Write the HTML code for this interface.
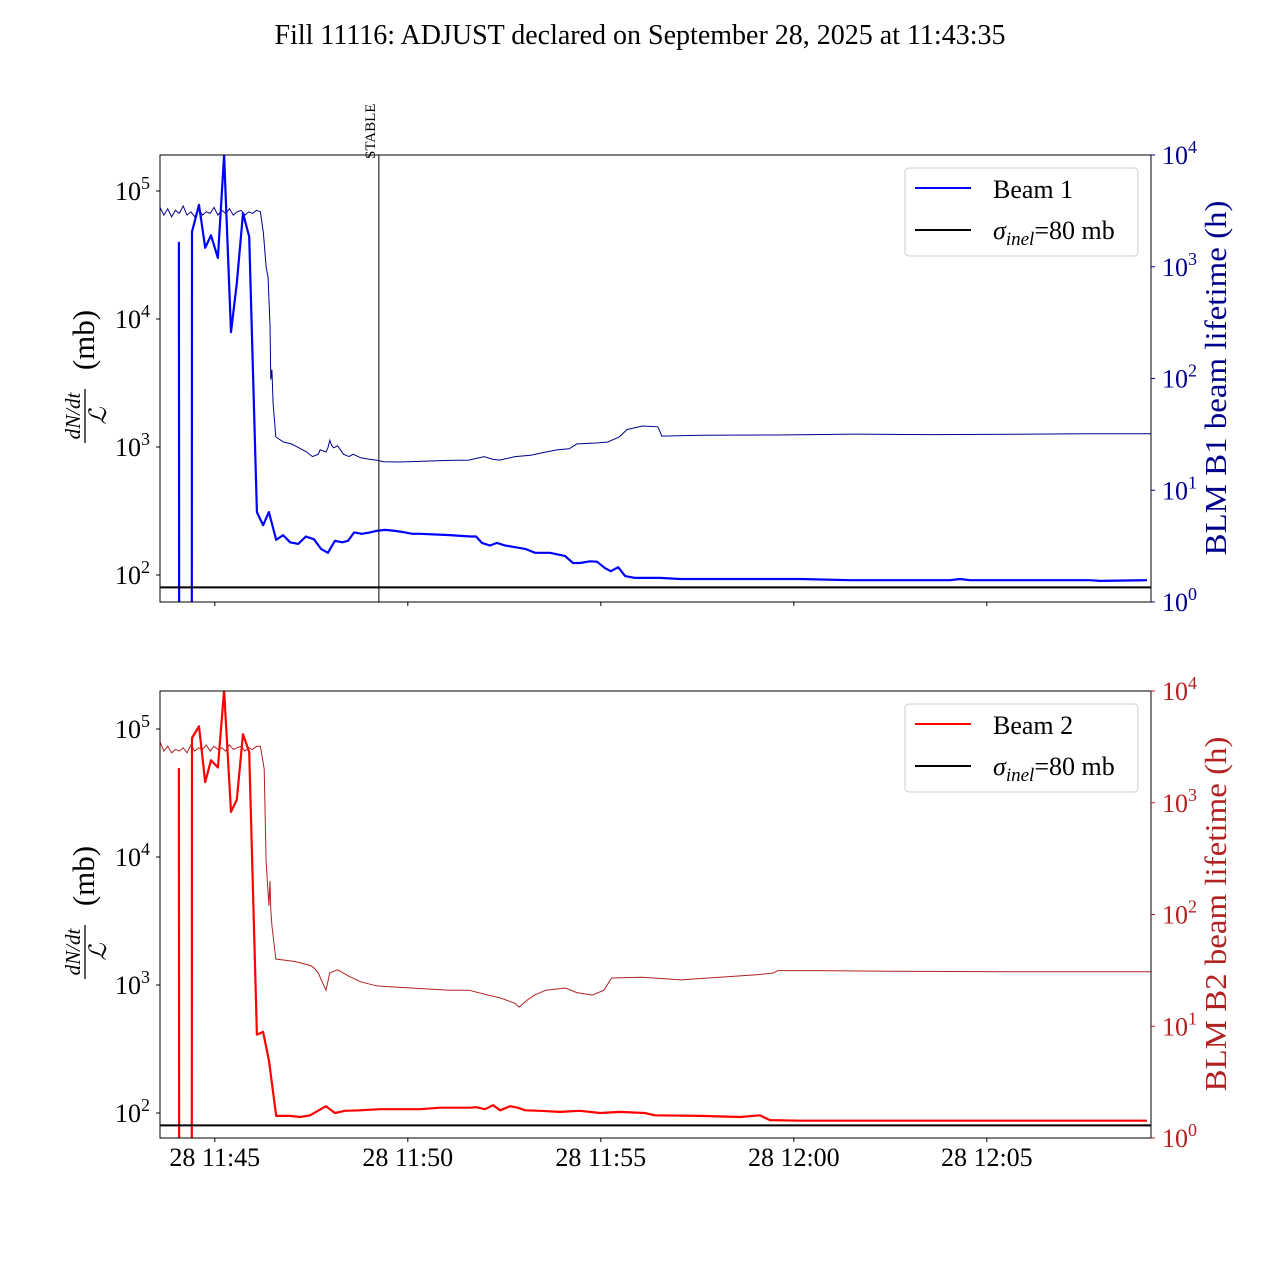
<!DOCTYPE html>
<html><head><meta charset="utf-8"><style>
html,body{margin:0;padding:0;background:#fff;width:1280px;height:1280px;overflow:hidden;}
svg{display:block;font-family:"Liberation Serif","DejaVu Serif",serif;}
</style></head><body>
<svg id="chart" width="1280" height="1280" viewBox="0 0 1280 1280" xmlns="http://www.w3.org/2000/svg">
<rect width="1280" height="1280" fill="#fff"/>
<text x="640" y="44" font-size="28" text-anchor="middle" textLength="731" lengthAdjust="spacingAndGlyphs">Fill 11116: ADJUST declared on September 28, 2025 at 11:43:35</text>
</svg>
<script>
// time in minutes after 11:43:35
const xTickLabels = ["28 11:45","28 11:50","28 11:55","28 12:00","28 12:05"];
const xTickTimes = [1.42, 6.42, 11.42, 16.42, 21.42];
const leftTicks = [2,3,4,5];
const rightTicks = [0,1,2,3,4];
const sigmaInel = 80;
const stableTime = 5.67;

const b1Time = [0.49,0.50,0.82,0.83,1.01,1.17,1.32,1.50,1.66,1.84,1.99,2.15,2.31,2.51,2.67,2.82,3.01,3.19,3.37,3.58,3.78,3.99,4.17,4.35,4.53,4.72,4.87,5.03,5.23,5.44,5.60,5.83,6.09,6.35,6.53,6.74,7.51,8.03,8.19,8.34,8.55,8.73,8.94,9.20,9.46,9.72,9.84,10.10,10.49,10.70,10.88,11.14,11.32,11.53,11.68,11.87,12.05,12.31,12.95,13.47,16.58,17.88,20.47,20.73,20.98,24.09,24.35,25.57];
const b1Loss = [40000,1,1,48000,78000,36000,45000,30000,190000,7900,19000,67000,44000,310,245,310,188,205,180,175,200,190,160,149,185,180,185,215,210,215,221,225,221,215,210,210,205,200,200,178,170,178,170,165,160,149,149,149,141,124,124,128,127,113,107,115,98,95,95,93,93,91,91,93,91,91,90,91];

const b1LifeTime = [0,0.1,0.2,0.3,0.4,0.5,0.6,0.7,0.8,0.9,1.0,1.1,1.2,1.3,1.4,1.5,1.6,1.7,1.8,1.9,2.0,2.1,2.2,2.3,2.4,2.5,2.6,2.68,2.75,2.8,2.85,2.87,2.9,2.93,3.0,3.2,3.4,3.6,3.8,3.95,4.1,4.15,4.3,4.35,4.4,4.45,4.5,4.6,4.75,4.9,5.0,5.2,5.4,5.6,5.8,6.2,6.8,7.5,8.0,8.4,8.6,8.8,9.2,9.6,10.0,10.3,10.6,10.8,11.3,11.6,11.9,12.1,12.5,12.9,13.0,14,16,18,20,22,24,25.7];
const b1Life = [3400,2900,3300,2800,3200,3000,3500,2900,3100,2800,3300,2900,3100,3000,3400,2900,3200,3000,3300,2900,3100,3200,2900,3100,3000,3200,3100,2000,1000,800,300,98,120,60,30,27,26,24,22,20,21,23,22,24,28,25,24,25,21,20,21,19.5,19,18.6,18.0,17.9,18.2,18.5,18.6,20,19,18.6,20,20.6,22,23,23.5,26,26.5,27,30,35,37.6,37,30.5,31,31.2,31.8,31.5,31.7,32,32];

const b2Time = [0.49,0.50,0.82,0.83,1.01,1.17,1.32,1.50,1.66,1.84,1.99,2.15,2.31,2.51,2.67,2.82,3.01,3.37,3.63,3.89,4.09,4.30,4.53,4.79,5.18,5.70,6.74,7.25,8.03,8.19,8.42,8.63,8.81,9.07,9.27,9.46,9.84,10.36,10.88,11.40,11.92,12.56,12.82,13.99,15.03,15.54,15.80,16.58,25.57];
const b2Loss = [49500,1,1,85000,105000,38500,57000,50000,200000,22500,28000,91000,66000,410,430,258,95,95,93,96,104,113,100,104,105,107,107,110,110,111,107,115,105,113,110,105,104,102,104,100,102,100,96,95,93,96,88,87,87];

const b2LifeTime = [0,0.1,0.2,0.3,0.4,0.5,0.6,0.7,0.8,0.9,1.0,1.1,1.2,1.3,1.4,1.5,1.6,1.7,1.8,1.9,2.0,2.1,2.2,2.3,2.4,2.5,2.6,2.7,2.75,2.82,2.85,2.87,2.9,3.0,3.5,3.9,4.0,4.1,4.2,4.3,4.4,4.6,4.9,5.2,5.6,6.0,6.5,7.0,7.5,8.0,8.5,8.8,9.0,9.2,9.3,9.5,9.7,10.0,10.5,10.8,11.2,11.5,11.7,12.5,13.5,14.5,15.5,15.9,16.0,17,19,22,25.7];
const b2Life = [3500,2900,3200,2800,3000,2900,3100,2800,3300,2900,3100,3000,3300,2900,3200,3000,3100,2900,3300,3000,3100,3200,2900,3100,3000,3200,3200,2000,300,120,200,110,80,40,38,35,33,30,25,21,30,32,28,25,23,22.5,22,21.5,21,21,19,18,17,16,14.8,17,19,21,22,20,19,21,27,27.5,26,27.5,29,30,31.5,31.5,31,30.8,30.8];

const NS="http://www.w3.org/2000/svg";
const svg=document.getElementById('chart');
function el(tag,attrs,parent){const e=document.createElementNS(NS,tag);for(const k in attrs)e.setAttribute(k,attrs[k]);(parent||svg).appendChild(e);return e;}

const X0=160,X1=1151,PXMIN=38.6;
function xs(t){return X0+t*PXMIN;}

function drawPanel(p){
  const top=p.top,bot=p.top+447;
  const yl=v=>p.l5-(Math.log10(v)-5)*128;
  const yr=v=>bot-Math.log10(v)*111.75;
  const g=el('g',{});
  
  
  const clipId='clip'+p.top;
  const cp=el('clipPath',{id:clipId},g);
  el('rect',{x:X0,y:top,width:X1-X0,height:447},cp);
  let d='';p.lifeT.forEach((t,i)=>{d+=(i?'L':'M')+xs(t).toFixed(1)+','+yr(p.life[i]).toFixed(1);});
  const lf=el('path',{d:d,fill:'none',stroke:p.lifeColor,'stroke-width':1,'clip-path':'url(#'+clipId+')'},g);
  
  
  d='';p.lossT.forEach((t,i)=>{d+=(i?'L':'M')+xs(t).toFixed(1)+','+yl(p.loss[i]).toFixed(1);});
  const ls=el('path',{d:d,fill:'none',stroke:p.color,'stroke-width':2.2,'stroke-linejoin':'round','clip-path':'url(#'+clipId+')'},g);
  
  
  const sl=el('line',{x1:X0,x2:X1,y1:yl(sigmaInel),y2:yl(sigmaInel),stroke:'#000','stroke-width':2},g);
  
  
  const fr=el('rect',{x:X0,y:top,width:X1-X0,height:447,fill:'none',stroke:'#000','stroke-width':1},g);
  
  
  leftTicks.forEach(e=>{
    const y=yl(Math.pow(10,e));
    el('line',{x1:X0-4,x2:X0,y1:y,y2:y,stroke:'#000'},g);
    const t=el('text',{x:150,y:y+9,'font-size':26,'text-anchor':'end'},g);
    
    
    t.innerHTML='10<tspan dy="-11" font-size="18">'+e+'</tspan>';
  });
  rightTicks.forEach(e=>{
    const y=yr(Math.pow(10,e));
    el('line',{x1:X1,x2:X1+4,y1:y,y2:y,stroke:p.lifeColor},g);
    const t=el('text',{x:1162,y:y+9,'font-size':26,fill:p.lifeColor},g);
    
    
    t.innerHTML='10<tspan dy="-11" font-size="18">'+e+'</tspan>';
  });
  xTickTimes.forEach((tt,i)=>{
    const x=xs(tt);
    el('line',{x1:x,x2:x,y1:bot,y2:bot+4,stroke:'#000'},g);
    if(p.xlabels){
      const t=el('text',{x:x,y:bot+28,'font-size':26,'text-anchor':'middle'},g);
      
      
      t.textContent=xTickLabels[i];
    }
  });
  const lg=el('g',{transform:'translate(84,'+(top+223)+') rotate(-90)'},g);
  
  
  el('text',{x:-38,y:-4,'font-size':21,'font-style':'italic','text-anchor':'middle'},lg).textContent='dN/dt';
  el('line',{x1:-65,x2:-11,y1:1,y2:1,stroke:'#000','stroke-width':1.3},lg);
  el('text',{x:-38,y:22,'font-size':24,'font-style':'italic','text-anchor':'middle'},lg).textContent='ℒ';
  el('text',{x:38,y:10,'font-size':31,'text-anchor':'middle'},lg).textContent='(mb)';
  const rt=el('text',{transform:'translate(1226,'+(top+223)+') rotate(-90)','font-size':31,'text-anchor':'middle',fill:p.lifeColor,textLength:355,lengthAdjust:'spacingAndGlyphs'},g);
  
  
  rt.textContent=p.rightLabel;
  const lgd=el('g',{},g);
  
  
  el('rect',{x:905,y:top+13,width:233,height:88,rx:4,fill:'#fff',stroke:'#ccc'},lgd);
  el('line',{x1:915,x2:971,y1:top+33,y2:top+33,stroke:p.color,'stroke-width':2},lgd);
  el('text',{x:993,y:top+43,'font-size':26},lgd).textContent=p.beamLabel;
  el('line',{x1:915,x2:971,y1:top+75,y2:top+75,stroke:'#000','stroke-width':2},lgd);
  const st=el('text',{x:993,y:top+84,'font-size':26},lgd);
  st.innerHTML='<tspan font-style="italic">σ</tspan><tspan font-style="italic" font-size="19" dy="6">inel</tspan><tspan dy="-6">=80 mb</tspan>';
  return {yl,yr,top,bot};
}

drawPanel({top:155,l5:191,name:'beam1-panel',color:'#0000ff',lifeColor:'#00008b',lossT:b1Time,loss:b1Loss,lifeT:b1LifeTime,life:b1Life,lossName:'beam1-loss-line',lifeName:'beam1-lifetime-line',rightLabel:'BLM B1 beam lifetime (h)',beamLabel:'Beam 1',xlabels:false});
drawPanel({top:691,l5:729,name:'beam2-panel',color:'#ff0000',lifeColor:'#b22222',lossT:b2Time,loss:b2Loss,lifeT:b2LifeTime,life:b2Life,lossName:'beam2-loss-line',lifeName:'beam2-lifetime-line',rightLabel:'BLM B2 beam lifetime (h)',beamLabel:'Beam 2',xlabels:true});

const sx=xs(stableTime);
const sline=el('line',{x1:sx,x2:sx,y1:155,y2:602,stroke:'#000','stroke-width':1});


const stx=el('text',{transform:'translate('+(sx-4)+',159) rotate(-90)','font-size':15},svg);


stx.textContent='STABLE';
</script>
</body></html>
